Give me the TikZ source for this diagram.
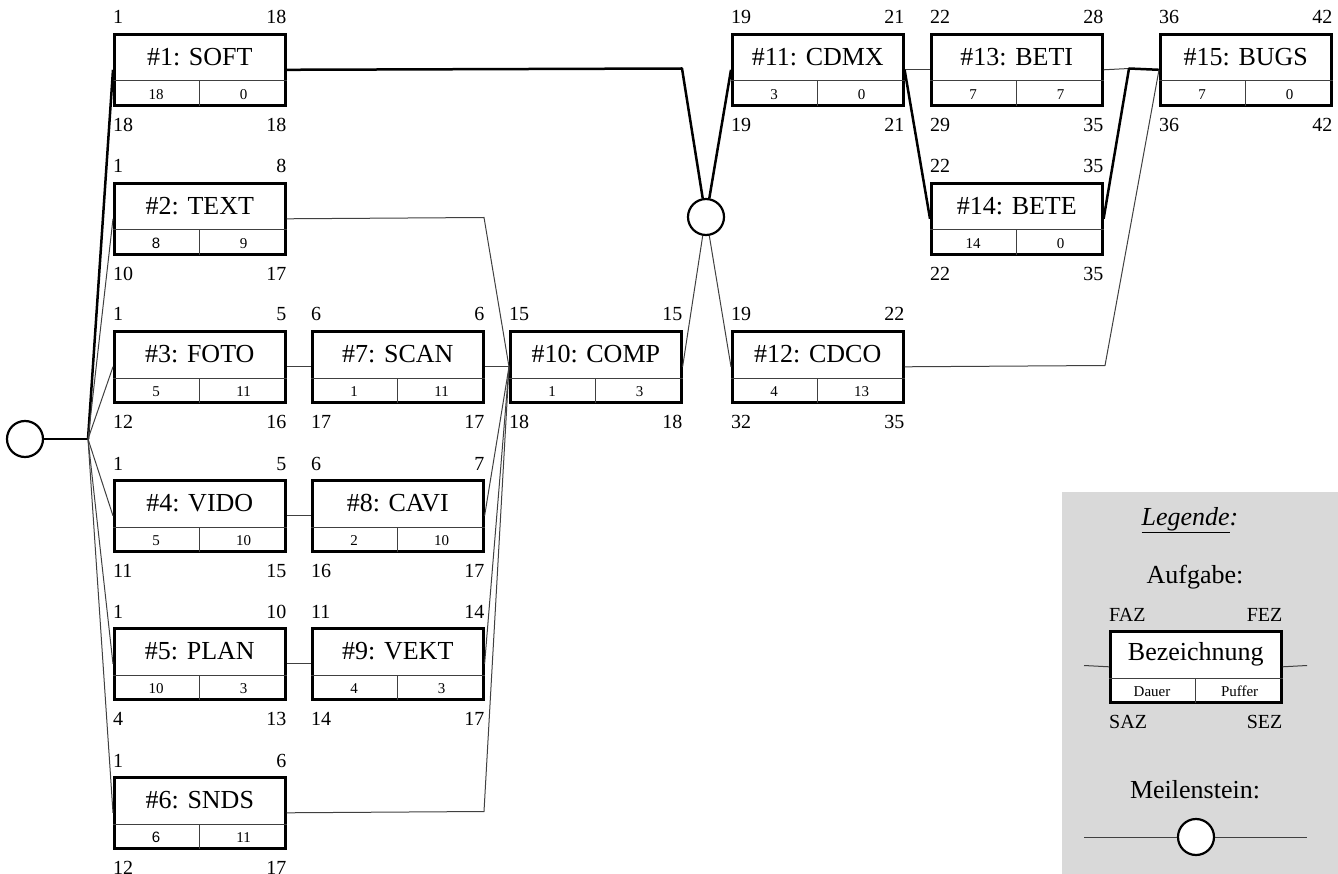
\documentclass[tikz,border=0pt]{standalone}
\usepackage{fontspec}
\setmainfont{Liberation Serif}
\newfontfamily\sansnum{Liberation Sans}
\begin{document}
\begin{tikzpicture}[x=1pt,y=-1pt,
  taskbox/.style={draw=black,line width=2.6pt,fill=white,minimum width=171pt,minimum height=71pt,inner sep=0pt,anchor=north west},
  inner/.style={draw=black!75,line width=1pt},
  title/.style={font=\fontsize{26}{28}\selectfont,anchor=center},
  cell/.style={font=\fontsize{15}{16}\selectfont,anchor=center,inner sep=0pt},
  corner/.style={font=\fontsize{20}{22}\selectfont,inner sep=0pt},
  crit/.style={draw=black,line width=2.5pt},
  thin/.style={draw=black!75,line width=1pt},
  mstone/.style={circle,draw=black,line width=2.2pt,fill=white,minimum size=36pt,inner sep=0pt},
  legtext/.style={font=\fontsize{26}{28}\selectfont,anchor=base,inner sep=0pt}
]
\useasboundingbox (0,0) rectangle (1338,874);
\fill[black!15] (1062,492) rectangle (1338,874);

\newcommand\task[9]{%
  \node[taskbox] (#1) at (#2) {};
  \draw[inner] ([yshift=-48pt]#1.north west) -- ([yshift=-48pt]#1.north east);
  \draw[inner] ([yshift=-48pt]#1.north) -- ([yshift=1pt]#1.south);
  \node[title] at ([yshift=-24pt]#1.north) {#3};
  \node[cell] at ([xshift=43pt,yshift=12pt]#1.south west) {#4};
  \node[cell] at ([xshift=-43pt,yshift=12pt]#1.south east) {#5};
  \node[corner,anchor=base west] at ([yshift=9pt]#1.north west) {#6};
  \node[corner,anchor=base east] at ([yshift=9pt]#1.north east) {#7};
  \node[corner,anchor=base west] at ([yshift=-25pt]#1.south west) {#8};
  \node[corner,anchor=base east] at ([yshift=-25pt]#1.south east) {#9};
}

% tasks
\task{t1}{113,33}{\#1: SOFT}{18}{0}{1}{18}{18}{18}
\task{t2}{113,182}{\#2: TEXT}{\sansnum 8}{9}{1}{8}{10}{17}
\task{t3}{113,330}{\#3: FOTO}{5}{11}{1}{5}{12}{16}
\task{t4}{113,479}{\#4: VIDO}{5}{10}{1}{5}{11}{15}
\task{t5}{113,627}{\#5: PLAN}{10}{3}{1}{10}{4}{13}
\task{t6}{113,776}{\#6: SNDS}{\sansnum 6}{11}{1}{6}{12}{17}
\task{t7}{311,330}{\#7: SCAN}{1}{11}{6}{6}{17}{17}
\task{t8}{311,479}{\#8: CAVI}{2}{10}{6}{7}{16}{17}
\task{t9}{311,627}{\#9: VEKT}{4}{3}{11}{14}{14}{17}
\task{t10}{509,330}{\#10: COMP}{1}{3}{15}{15}{18}{18}
\task{t11}{731,33}{\#11: CDMX}{3}{0}{19}{21}{19}{21}
\task{t12}{731,330}{\#12: CDCO}{4}{13}{19}{22}{32}{35}
\task{t13}{930,33}{\#13: BETI}{7}{7}{22}{28}{29}{35}
\task{t14}{930,182}{\#14: BETE}{14}{0}{22}{35}{22}{35}
\task{t15}{1159,33}{\#15: BUGS}{7}{0}{36}{42}{36}{42}

% milestones
\node[mstone] (m0) at (25,439) {};
\node[mstone] (m1) at (706,217) {};

% helper coordinates
\coordinate (j0) at (88,439);
\coordinate (c1) at (682,68.5);
\coordinate (c2) at (484,217.5);
\coordinate (c6) at (484,811.5);
\coordinate (c14) at (1129,68.5);
\coordinate (c12) at (1105,365.5);

% connectors
\draw[crit,line width=2pt] (m0.east) -- (j0);
\draw[crit] (j0) -- (t1.west);
\draw[thin] (j0) -- (t2.west);
\draw[thin] (j0) -- (t3.west);
\draw[thin] (j0) -- (t4.west);
\draw[thin] (j0) -- (t5.west);
\draw[thin] (j0) -- (t6.west);
\draw[thin] (t3.east) -- (t7.west);
\draw[thin] (t4.east) -- (t8.west);
\draw[thin] (t5.east) -- (t9.west);
\draw[thin] (t7.east) -- (t10.west);
\draw[thin] (t8.east) -- (t10.west);
\draw[thin] (t9.east) -- (t10.west);
\draw[thin] (t2.east) -- (c2) -- (t10.west);
\draw[thin] (t6.east) -- (c6) -- (t10.west);
\draw[crit,line join=round] (t1.east) -- (c1) -- (m1.100);
\draw[crit] (m1.80) -- (t11.west);
\draw[thin] (t10.east) -- (m1.260);
\draw[thin] (m1.280) -- (t12.west);
\draw[thin] (t11.east) -- (t13.west);
\draw[crit] (t11.east) -- (t14.west);
\draw[thin] (t13.east) -- (c14);
\draw[crit,line join=round] (t14.east) -- (c14) -- (t15.west);
\draw[thin] (t12.east) -- (c12) -- (t15.west);

% legend
\node[legtext] (lg) at (1190,525) {\underline{\textit{Legende}}\textit{:}};
\node[legtext] (la) at (1195,583) {Aufgabe:};
\task{leg}{1109,630}{Bezeichnung}{Dauer}{Puffer}{FAZ}{FEZ}{SAZ}{SEZ}
\coordinate (ll) at (1084,665.5);
\coordinate (lr) at (1307,665.5);
\draw[thin] (ll) -- (leg.west);
\draw[thin] (leg.east) -- (lr);
\node[legtext] (lm) at (1195,798) {Meilenstein:};
\node[mstone] (lms) at (1196,837) {};
\coordinate (ml) at (1084,837);
\coordinate (mr) at (1307,837);
\draw[thin] (ml) -- (lms.west);
\draw[thin] (lms.east) -- (mr);
\end{tikzpicture}
\end{document}
